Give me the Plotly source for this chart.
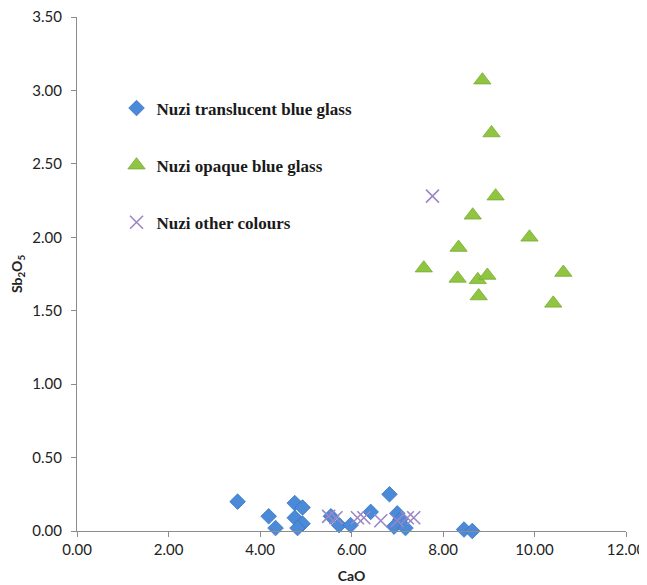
import plotly.graph_objects as go

# Nuzi translucent blue glass (diamonds)
translucent_cao = [3.51, 4.19, 4.34, 4.76, 4.93, 4.76, 4.93, 4.82, 6.83, 6.42, 5.55, 5.73, 5.98,
                   7.00, 7.07, 6.93, 7.18, 8.46, 8.64]
translucent_sb = [0.20, 0.10, 0.02, 0.19, 0.16, 0.09, 0.05, 0.02, 0.25, 0.13, 0.10, 0.04, 0.04,
                  0.12, 0.08, 0.03, 0.02, 0.01, 0.00]

# Nuzi opaque blue glass (triangles)
opaque_cao = [8.86, 9.06, 9.15, 8.65, 9.89, 8.34, 7.58, 8.32, 8.76, 8.97, 8.78, 10.63, 10.41]
opaque_sb = [3.07, 2.71, 2.28, 2.15, 2.00, 1.93, 1.79, 1.72, 1.71, 1.74, 1.60, 1.76, 1.55]

# Nuzi other colours (crosses)
other_cao = [5.50, 5.66, 6.13, 6.27, 6.64, 7.00, 7.22, 7.36, 7.77]
other_sb = [0.10, 0.09, 0.09, 0.09, 0.07, 0.07, 0.09, 0.09, 2.28]

series_names = ["Nuzi translucent blue glass", "Nuzi opaque blue glass", "Nuzi other colours"]

x_ticks = [0, 2, 4, 6, 8, 10, 12]
y_ticks = [0, 0.5, 1.0, 1.5, 2.0, 2.5, 3.0, 3.5]

fig = go.Figure()
fig.add_trace(go.Scatter(
    x=translucent_cao, y=translucent_sb, mode="markers", name=series_names[0],
    legendgroup="a", cliponaxis=False,
    marker=dict(symbol="diamond", size=12, color="#4a8ad8",
                line=dict(color="#3a74c2", width=0.8)),
))
fig.add_trace(go.Scatter(
    x=opaque_cao, y=opaque_sb, mode="markers", name=series_names[1],
    legendgroup="b", cliponaxis=False,
    marker=dict(symbol="triangle-up", size=15, color="#8fc541",
                line=dict(color="#78a935", width=0.8)),
))
fig.add_trace(go.Scatter(
    x=other_cao, y=other_sb, mode="markers", name=series_names[2],
    legendgroup="c", cliponaxis=False,
    marker=dict(symbol="x-thin", size=13, color="#9b86c6",
                line=dict(color="#9b86c6", width=1.6)),
))

axis_color = "#8c8c8c"
fig.update_layout(
    width=639, height=577,
    margin=dict(l=69, r=21, t=9, b=54),
    paper_bgcolor="white", plot_bgcolor="white",
    showlegend=True,
    legend=dict(
        x=0.072, y=0.857, xanchor="left", yanchor="top",
        bgcolor="rgba(0,0,0,0)", tracegroupgap=32,
        font=dict(family="Liberation Serif", size=17, color="#1a1a1a", weight="bold"),
    ),
    xaxis=dict(
        range=[0, 12], tickvals=x_ticks, tickformat=".2f", automargin=False,
        ticklabeloverflow="allow",
        showgrid=False, zeroline=False, showline=True, linecolor=axis_color, linewidth=1,
        ticks="outside", ticklen=5, tickcolor=axis_color,
        tickfont=dict(family="Lato", size=15, color="#222222"),
        title=dict(text="<b>CaO</b>", font=dict(family="Lato", size=14, color="#222222"), standoff=14),
    ),
    yaxis=dict(
        range=[0, 3.5], tickvals=y_ticks, tickformat=".2f", automargin=False,
        ticklabeloverflow="allow",
        showgrid=False, zeroline=False, showline=True, linecolor=axis_color, linewidth=1,
        ticks="outside", ticklen=5, tickcolor=axis_color, ticklabelstandoff=6,
        tickfont=dict(family="Lato", size=15, color="#222222"),
        title=dict(text="<b>Sb<sub>2</sub>O<sub>5</sub></b>", font=dict(family="Lato", size=14, color="#222222"), standoff=6),
    ),
)

fig.write_html("out.html")
